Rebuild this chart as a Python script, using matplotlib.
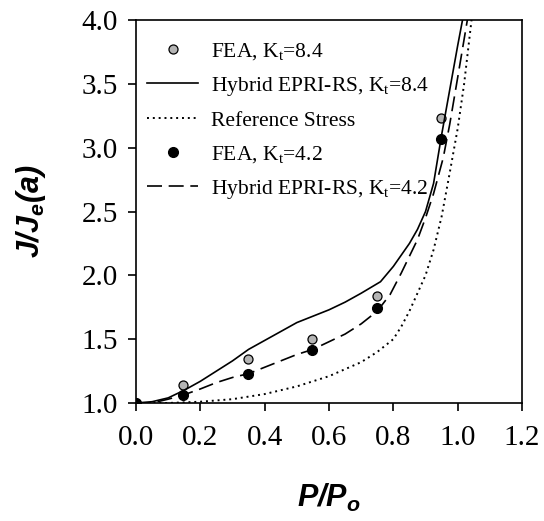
import numpy as np
import matplotlib
matplotlib.use('Agg')
import matplotlib.pyplot as plt

plt.rcParams['font.family'] = 'Liberation Serif'
plt.rcParams['mathtext.fontset'] = 'custom'
plt.rcParams['mathtext.rm'] = 'Liberation Serif'
plt.rcParams['mathtext.it'] = 'Liberation Serif:italic'
plt.rcParams['mathtext.bf'] = 'Liberation Sans:italic:bold'

# FEA results
fea_x = [0.0, 0.147, 0.349, 0.547, 0.748, 0.947]
fea_84 = [1.0, 1.14, 1.345, 1.505, 1.84, 3.23]
fea_42 = [1.0, 1.063, 1.228, 1.415, 1.746, 3.065]

# hybrid EPRI-RS, Kt=8.4
hyb84_x = [0.0, 0.05, 0.1, 0.15, 0.2, 0.25, 0.3, 0.35, 0.4, 0.45, 0.5, 0.55,
           0.6, 0.65, 0.7, 0.76, 0.8, 0.85, 0.875, 0.9, 0.925, 0.95, 0.975,
           1.0, 1.015, 1.03]
hyb84_y = [1.0, 1.01, 1.04, 1.10, 1.17, 1.25, 1.33, 1.42, 1.49, 1.56, 1.63, 1.68,
           1.73, 1.79, 1.86, 1.95, 2.07, 2.25, 2.36, 2.50, 2.72, 3.10, 3.45,
           3.8, 4.0, 4.2]

# hybrid EPRI-RS, Kt=4.2
hyb42_x = [0.0, 0.05, 0.1, 0.15, 0.2, 0.25, 0.3, 0.35, 0.4, 0.45, 0.5, 0.55,
           0.6, 0.65, 0.7, 0.75, 0.79, 0.825, 0.85, 0.875, 0.9, 0.925, 0.955,
           0.975, 1.0, 1.03, 1.045]
hyb42_y = [1.0, 1.0, 1.03, 1.065, 1.11, 1.16, 1.20, 1.23, 1.28, 1.33, 1.38, 1.42,
           1.48, 1.54, 1.62, 1.72, 1.85, 2.02, 2.15, 2.28, 2.45, 2.64, 2.92,
           3.18, 3.55, 4.0, 4.2]

# reference stress
ref_x = [0.0, 0.1, 0.2, 0.3, 0.4, 0.5, 0.6, 0.7, 0.75, 0.8, 0.825, 0.85, 0.875,
         0.9, 0.925, 0.95, 0.975, 1.0, 1.02, 1.043, 1.06]
ref_y = [1.0, 1.0, 1.01, 1.03, 1.07, 1.13, 1.21, 1.32, 1.40, 1.50, 1.60, 1.72, 1.86,
         2.0, 2.2, 2.46, 2.8, 3.15, 3.5, 4.0, 4.3]

fig = plt.figure(figsize=(5.44, 5.21), dpi=100)
ax = fig.add_axes([0.25, 0.2265, 0.7096, 0.735])

ax.plot(fea_x, fea_84, 'o', color='#b4b4b4', mec='black', mew=0.9, ms=6.5,
        label=r'FEA, K$_\mathrm{t}$=8.4')
ax.plot(hyb84_x, hyb84_y, '-', color='black', lw=1.2,
        label=r'Hybrid EPRI-RS, K$_\mathrm{t}$=8.4')
ax.plot(ref_x, ref_y, color='black', lw=1.4, linestyle=(0, (1, 2)),
        label='Reference Stress')
ax.plot(fea_x, fea_42, 'o', color='black', ms=7,
        label=r'FEA, K$_\mathrm{t}$=4.2')
ax.plot(hyb42_x, hyb42_y, color='black', lw=1.2, linestyle=(0, (9, 4)),
        label=r'Hybrid EPRI-RS, K$_\mathrm{t}$=4.2')

ax.set_xlim(0, 1.2)
ax.set_ylim(1.0, 4.0)
ax.set_xticks(np.arange(0, 1.21, 0.2))
ax.set_yticks(np.arange(1.0, 4.01, 0.5))
ax.xaxis.set_major_formatter(matplotlib.ticker.FormatStrFormatter('%.1f'))
ax.yaxis.set_major_formatter(matplotlib.ticker.FormatStrFormatter('%.1f'))
ax.tick_params(direction='out', length=6, width=1.2, labelsize=21)
ax.tick_params(axis='x', pad=10)
ax.tick_params(axis='y', pad=7)
for s in ax.spines.values():
    s.set_linewidth(1.2)

ax.set_xlabel(r'$\mathbf{P/P_o}$', fontsize=22, labelpad=22)
ax.set_ylabel(r'$\mathbf{J/J_e(a)}$', fontsize=22, labelpad=24)

ax.legend(loc='upper left', frameon=False, fontsize=15.5, handlelength=2.4,
          handletextpad=0.6, labelspacing=0.6, borderaxespad=0, borderpad=0,
          bbox_to_anchor=(0.028, 0.945))

plt.savefig('out.png', dpi=100)
